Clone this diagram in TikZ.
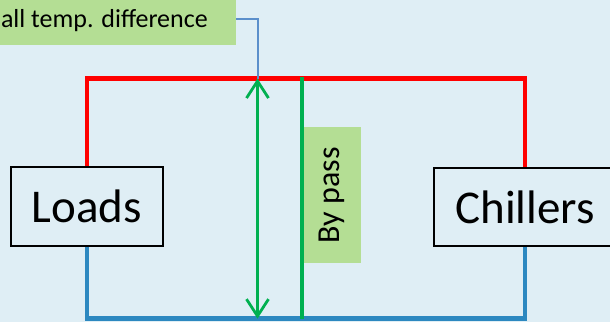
\documentclass[tikz,border=0pt]{standalone}
\usepackage{fontspec}
\setmainfont{Carlito}
\usetikzlibrary{arrows.meta}
\definecolor{bgc}{HTML}{DFEEF5}
\definecolor{lblgreen}{HTML}{B4DE94}
\definecolor{pipegreen}{HTML}{00B050}
\definecolor{hotred}{HTML}{FF0000}
\definecolor{coldblue}{HTML}{2C88C0}
\definecolor{thinblue}{HTML}{5B8FCB}
\tikzset{
  unitbox/.style={draw=black, line width=1.6pt, fill=bgc, inner sep=0pt, font=\fontsize{47}{50}\selectfont},
  greenlbl/.style={fill=lblgreen, draw=none, inner sep=0pt},
  hotpipe/.style={draw=hotred, line width=4.6pt},
  coldpipe/.style={draw=coldblue, line width=4.6pt},
  bypasspipe/.style={draw=pipegreen, line width=4.6pt},
  diffarrow/.style={draw=pipegreen, line width=2.8pt, {Straight Barb[length=17pt,width=22pt,line width=2.8pt]}-{Straight Barb[length=17pt,width=22pt,line width=2.8pt]}},
  leader/.style={draw=thinblue, line width=2pt}
}
\begin{document}
\begin{tikzpicture}[x=1pt,y=-1pt]
\useasboundingbox (0,0) rectangle (610,322);
\clip (0,0) rectangle (610,322);
\fill[bgc] (0,0) rectangle (610,322);
% nodes
\node[unitbox, minimum width=152pt, minimum height=79pt] (loads) at (87,206.5) {Loads};
\node[unitbox, minimum width=182pt, minimum height=78pt] (chillers) at (525,207) {Chillers};
\node[greenlbl, anchor=north west, minimum width=59pt, minimum height=136pt] (bypass) at (302,127) {};
\node[rotate=90, font=\fontsize{32}{36}\selectfont, inner sep=0pt] (bypasstext) at (bypass.center) {By pass};
\node[greenlbl, anchor=north west, minimum width=236pt, minimum height=44.6pt] (templbl) at (0,0) {};
\node[anchor=base east, font=\fontsize{26}{30}\selectfont, inner sep=0pt] (temptext) at (208,27) {all temp. difference};
% coordinates
\coordinate (hl) at (87,78.5);
\coordinate (hr) at (525,78.5);
\coordinate (cl) at (87,318.7);
\coordinate (cr) at (525,318.7);
\coordinate (bptop) at (302,76.5);
\coordinate (bpbot) at (302,318.7);
\coordinate (atop) at (257.5,78.5);
\coordinate (abot) at (257.5,318.7);
\coordinate (lstart) at (236,18.5);
% pipes
\draw[hotpipe] (loads.north) -- (hl) -- (hr) -- (chillers.north);
\draw[coldpipe] (loads.south) -- (cl) -- (cr) -- (chillers.south);
\draw[bypasspipe] (bptop) -- (bpbot);
\draw[leader] (lstart) -| (atop);
\draw[diffarrow] (atop) -- (abot);
\end{tikzpicture}
\end{document}
